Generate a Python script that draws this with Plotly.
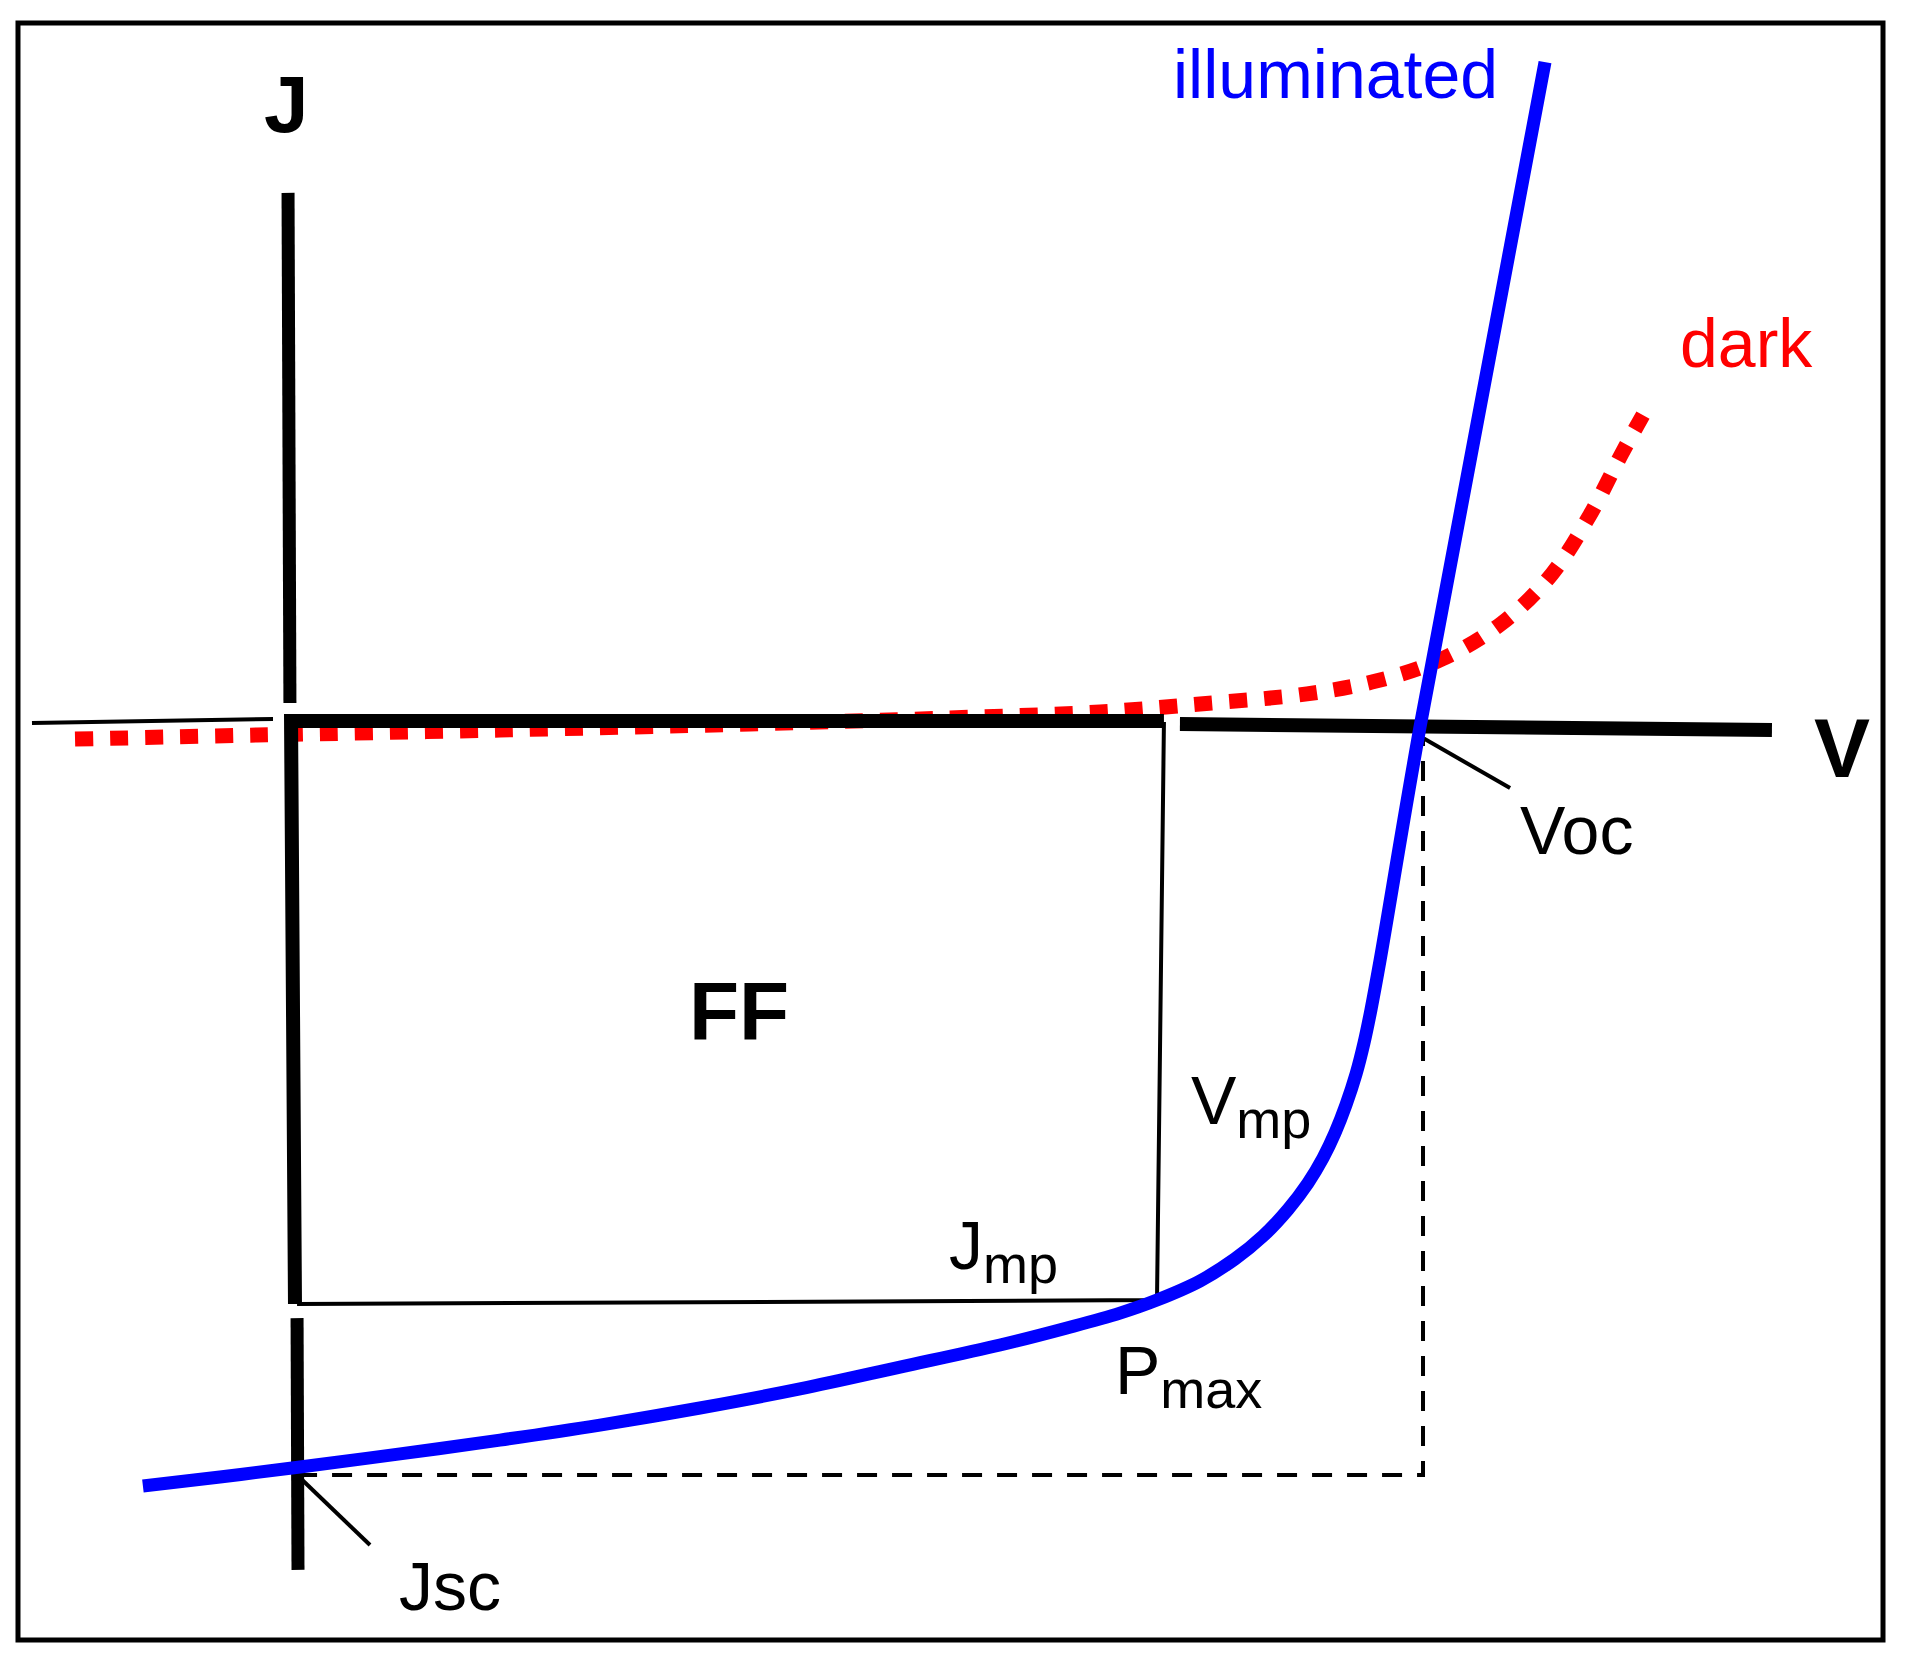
import plotly.graph_objects as go

# ---- data (V in volts, J in mA/cm^2; schematic values) ----
illum_v = [-0.0809, -0.0399, 0.0027, 0.0559, 0.1090, 0.1622, 0.2154, 0.2686, 0.3218,
           0.3750, 0.4106, 0.4388, 0.4585, 0.4814, 0.5000, 0.5149, 0.5282, 0.5388,
           0.5468, 0.5532, 0.5590, 0.5644, 0.5686, 0.5723, 0.5771, 0.5984, 0.6649]
illum_j = [-30.44, -30.08, -29.68, -29.16, -28.61, -28.01, -27.33, -26.57, -25.70,
           -24.82, -24.14, -23.55, -23.03, -22.27, -21.39, -20.48, -19.42, -18.37,
           -17.37, -16.37, -15.26, -14.02, -12.79, -11.47, -9.52, -0.20, 26.29]

dark_v = [-0.1170, -0.0202, 0.1090, 0.2420, 0.3484, 0.4282, 0.4814, 0.5383, 0.5750,
          0.6101, 0.6420, 0.6686, 0.6888, 0.7059, 0.7170]
dark_j = [-0.68, -0.52, -0.32, -0.08, 0.16, 0.40, 0.72, 1.12, 1.63,
          2.51, 3.94, 5.90, 8.25, 10.72, 12.23]

VOC = 0.600
JSC = -30.0
VMP = [0.4622, 0.4585]   # top / bottom of the (hand-drawn) Vmp edge
JMP = [-23.03, -23.19]   # right / left of the (hand-drawn) Jmp edge

# hand-drawn axis pieces
jaxis_top_v = [-0.0037, -0.0027]
jaxis_top_j = [21.08, 0.76]
corner_v = [VMP[0], -0.0021, 0.0]
corner_j = [0.04, 0.04, JMP[1]]
jaxis_bot_v = [0.0011, 0.0016]
jaxis_bot_j = [-23.75, -33.78]
vaxis_v = [0.4707, 0.7856]
vaxis_j = [-0.08, -0.32]
thin_v = [-0.1399, -0.0117]
thin_j = [-0.04, 0.12]

X_RANGE = [-0.15691, 0.85797]
Y_RANGE = [-37.291, 28.765]

FONT = "Liberation Sans, Arial, Helvetica, sans-serif"
BLUE = "#0000FF"
RED = "#FF0000"

fig = go.Figure()

def line(x, y, width, color="black", dash="solid", shape="linear", smoothing=1.0):
    fig.add_trace(go.Scatter(x=x, y=y, mode="lines", hoverinfo="skip",
                             line=dict(color=color, width=width, dash=dash,
                                       shape=shape, smoothing=smoothing)))

# dark curve (under the axis)
line(dark_v, dark_j, 15, RED, dash="18px,17px", shape="spline")

# axes pieces
line(jaxis_top_v, jaxis_top_j, 13)
line(corner_v, corner_j, 14)
line(jaxis_bot_v, jaxis_bot_j, 13)
line(vaxis_v, vaxis_j, 14)
line(thin_v, thin_j, 4)

# max power rectangle (right and bottom edges)
line([VMP[0], VMP[1], 0.0011], [0.0, JMP[0], JMP[1]], 4)

# dashed Voc / Jsc guides
line([0.0011, VOC, VOC], [JSC, JSC, -0.64], 4, dash="20px,15px")

# leader lines
line([VOC, 0.6463], [-0.64, -2.63], 4)
line([0.0011, 0.0399], [JSC, -32.79], 4)

# illuminated curve
line(illum_v, illum_j, 13, BLUE, shape="spline", smoothing=1.0)

def label(x, y, text, size, color="black", bold=False):
    fig.add_annotation(x=x, y=y, text=f"<b>{text}</b>" if bold else text,
                       showarrow=False, xanchor="center", yanchor="middle",
                       font=dict(family=FONT, size=size, color=color))

SUB = "<sub><span style='font-size:54px'>{}</span></sub>"

label(-0.0043, 24.62, "J", 80, bold=True)
label(0.8229, -1.04, "V", 84, bold=True)
label(0.2362, -11.55, "FF", 82, bold=True)
label(0.5532, 25.82, "illuminated", 68, BLUE)
label(0.7718, 15.10, "dark", 68, RED)
label(0.6814, -4.30, "Voc", 68)
label(0.0824, -34.42, "Jsc", 68)
label(0.5085, -15.26, "V" + SUB.format("mp"), 68)
label(0.3766, -21.04, "J" + SUB.format("mp"), 68)
label(0.4755, -26.02, "P" + SUB.format("max"), 68)

# frame
fig.add_shape(type="rect", xref="paper", yref="paper",
              x0=0.00943, x1=0.98690, y0=0.01086, y1=0.98613,
              line=dict(color="black", width=5))

fig.update_layout(width=1908, height=1658, margin=dict(l=0, r=0, t=0, b=0),
                  paper_bgcolor="white", plot_bgcolor="white",
                  showlegend=False, hovermode=False)
fig.update_xaxes(visible=False, range=X_RANGE, fixedrange=True)
fig.update_yaxes(visible=False, range=Y_RANGE, fixedrange=True)

fig.write_html("out.html", config={"displayModeBar": False},
               post_script="document.body.style.margin='0';")
